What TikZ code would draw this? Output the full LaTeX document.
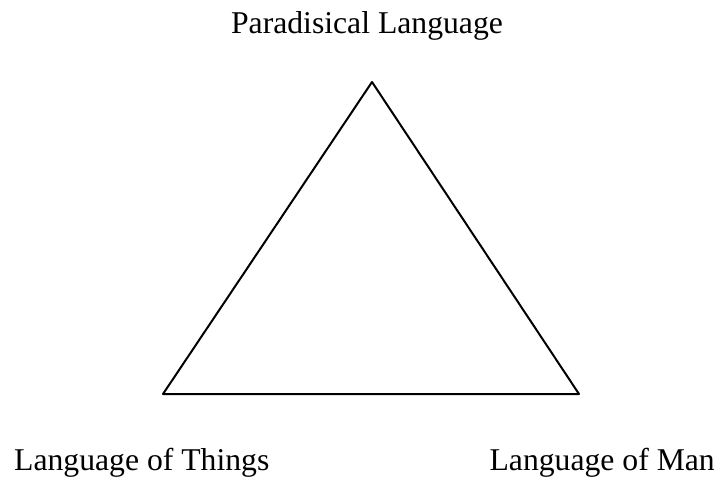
\documentclass[tikz,border=0pt]{standalone}
\usepackage{fontspec}
\setmainfont{Liberation Serif}
\usepackage{tkz-euclide}
\tikzset{lang/.style={font=\fontsize{31.8}{38}\selectfont,inner sep=0pt}}

\begin{document}
\begin{tikzpicture}[x=1bp,y=-1bp]
\useasboundingbox (0,0) rectangle (726,482);
\tkzSetUpLine[line width=2bp,color=black]

\tkzDefPoints{372/82/P,163/394/T,579/394/M}

\tkzDrawPolygon[line width=2bp,color=black](P,T,M)

\node[lang,anchor=base] (paradise) at (367,34) {Paradisical Language};
\node[lang,anchor=base west] (things) at (14,470) {Language of Things};
\node[lang,anchor=base east] (man) at (715,470) {Language of Man};

\end{tikzpicture}
\end{document}
